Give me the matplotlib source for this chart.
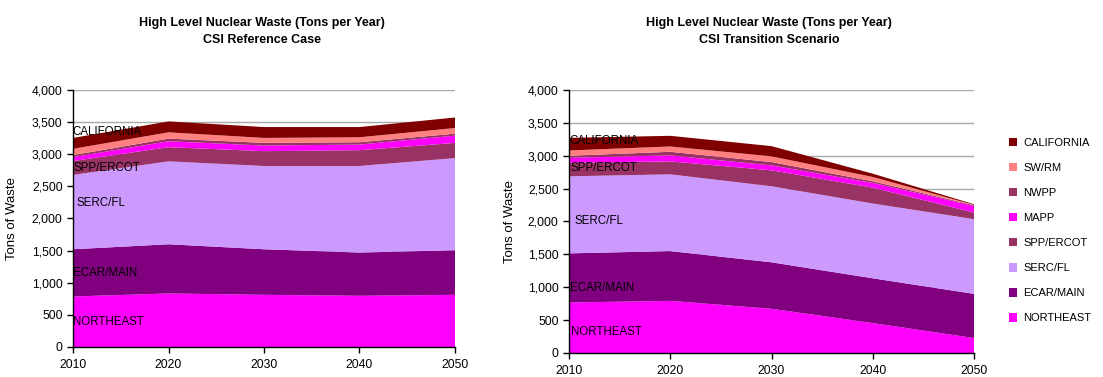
import matplotlib
matplotlib.use('Agg')
import numpy as np
from matplotlib import pyplot as plt
from matplotlib.ticker import FuncFormatter
from matplotlib.patches import Patch

plt.rcParams['font.family'] = ['Liberation Sans', 'DejaVu Sans']

years = [2010, 2020, 2030, 2040, 2050]
regions = ['NORTHEAST', 'ECAR/MAIN', 'SERC/FL', 'SPP/ERCOT', 'MAPP', 'NWPP', 'SW/RM', 'CALIFORNIA']
colors = ['#FF00FF', '#800080', '#CC99FF', '#993366', '#FF00FF', '#993366', '#FF8080', '#800000']

# tons per year, by region
ref_northeast = [786, 833, 812, 797, 812]
ref_ecar = [735, 766, 709, 673, 694]
ref_serc = [1157, 1290, 1296, 1347, 1434]
ref_spp = [216, 221, 231, 246, 237]
ref_mapp = [62, 92, 87, 88, 113]
ref_nwpp = [30, 41, 42, 36, 30]
ref_swrm = [98, 98, 77, 77, 88]
ref_california = [170, 170, 169, 159, 164]

tr_northeast = [768, 793, 672, 455, 227]
tr_ecar = [747, 757, 707, 681, 672]
tr_serc = [1172, 1167, 1156, 1137, 1136]
tr_spp = [207, 197, 243, 242, 101]
tr_mapp = [75, 91, 75, 71, 101]
tr_nwpp = [31, 55, 51, 25, 10]
tr_swrm = [80, 81, 86, 66, 5]
tr_california = [192, 162, 156, 50, 10]

ref_data = [ref_northeast, ref_ecar, ref_serc, ref_spp, ref_mapp, ref_nwpp, ref_swrm, ref_california]
tr_data = [tr_northeast, tr_ecar, tr_serc, tr_spp, tr_mapp, tr_nwpp, tr_swrm, tr_california]


def draw_panel(ax, data, label_pos):
    ax.stackplot(years, *data, colors=colors, linewidth=0, zorder=2)
    ax.set_xlim(2010, 2050)
    ax.set_ylim(0, 4000)
    ax.set_xticks(years)
    ax.set_yticks(np.arange(0, 4001, 500))
    ax.yaxis.set_major_formatter(FuncFormatter(lambda v, p: '{:,.0f}'.format(v)))
    ax.grid(axis='y', color='#a8a8a8', linewidth=1, zorder=0)
    ax.set_axisbelow(True)
    for s in ['top', 'right']:
        ax.spines[s].set_visible(False)
    ax.spines['left'].set_linewidth(1)
    ax.spines['bottom'].set_linewidth(1)
    ax.tick_params(axis='both', labelsize=8.7, length=4, width=1, direction='out')
    ax.tick_params(axis='x', pad=5)
    ax.set_ylabel('Tons of Waste', fontsize=9.5)
    for name, x, y in label_pos:
        ax.text(x, y, name, fontsize=8.3, va='center', ha='left', zorder=5)


fig = plt.figure(figsize=(11.03, 3.77), dpi=100)

ax1 = fig.add_axes([0.0662, 0.0796, 0.3463, 0.6817])
draw_panel(ax1, ref_data, [('CALIFORNIA', 2009.9, 3340), ('SPP/ERCOT', 2010.05, 2790),
                           ('SERC/FL', 2010.4, 2240), ('ECAR/MAIN', 2010.05, 1150),
                           ('NORTHEAST', 2010.05, 385)])
ax1.yaxis.set_label_coords(-0.145, 0.5)

ax2 = fig.add_axes([0.5159, 0.0637, 0.3672, 0.6976])
draw_panel(ax2, tr_data, [('CALIFORNIA', 2010.05, 3225), ('SPP/ERCOT', 2010.1, 2815),
                          ('SERC/FL', 2010.5, 2010), ('ECAR/MAIN', 2010.1, 995),
                          ('NORTHEAST', 2010.2, 315)])
ax2.yaxis.set_label_coords(-0.13, 0.5)

fig.text(0.2375, 0.955, 'High Level Nuclear Waste (Tons per Year)\nCSI Reference Case',
         ha='center', va='top', fontsize=9, fontweight='bold', linespacing=1.6)
fig.text(0.697, 0.955, 'High Level Nuclear Waste (Tons per Year)\nCSI Transition Scenario',
         ha='center', va='top', fontsize=9, fontweight='bold', linespacing=1.6)

handles = [Patch(facecolor=c, edgecolor='none') for c in colors[::-1]]
fig.legend(handles, regions[::-1], loc='upper left', bbox_to_anchor=(1003 / 1103, 1 - 132 / 377),
           frameon=False, fontsize=8, labelspacing=1.35, handlelength=0.8, handleheight=0.8,
           handletextpad=0.5, borderpad=0)

fig.savefig('out.png', dpi=100)
